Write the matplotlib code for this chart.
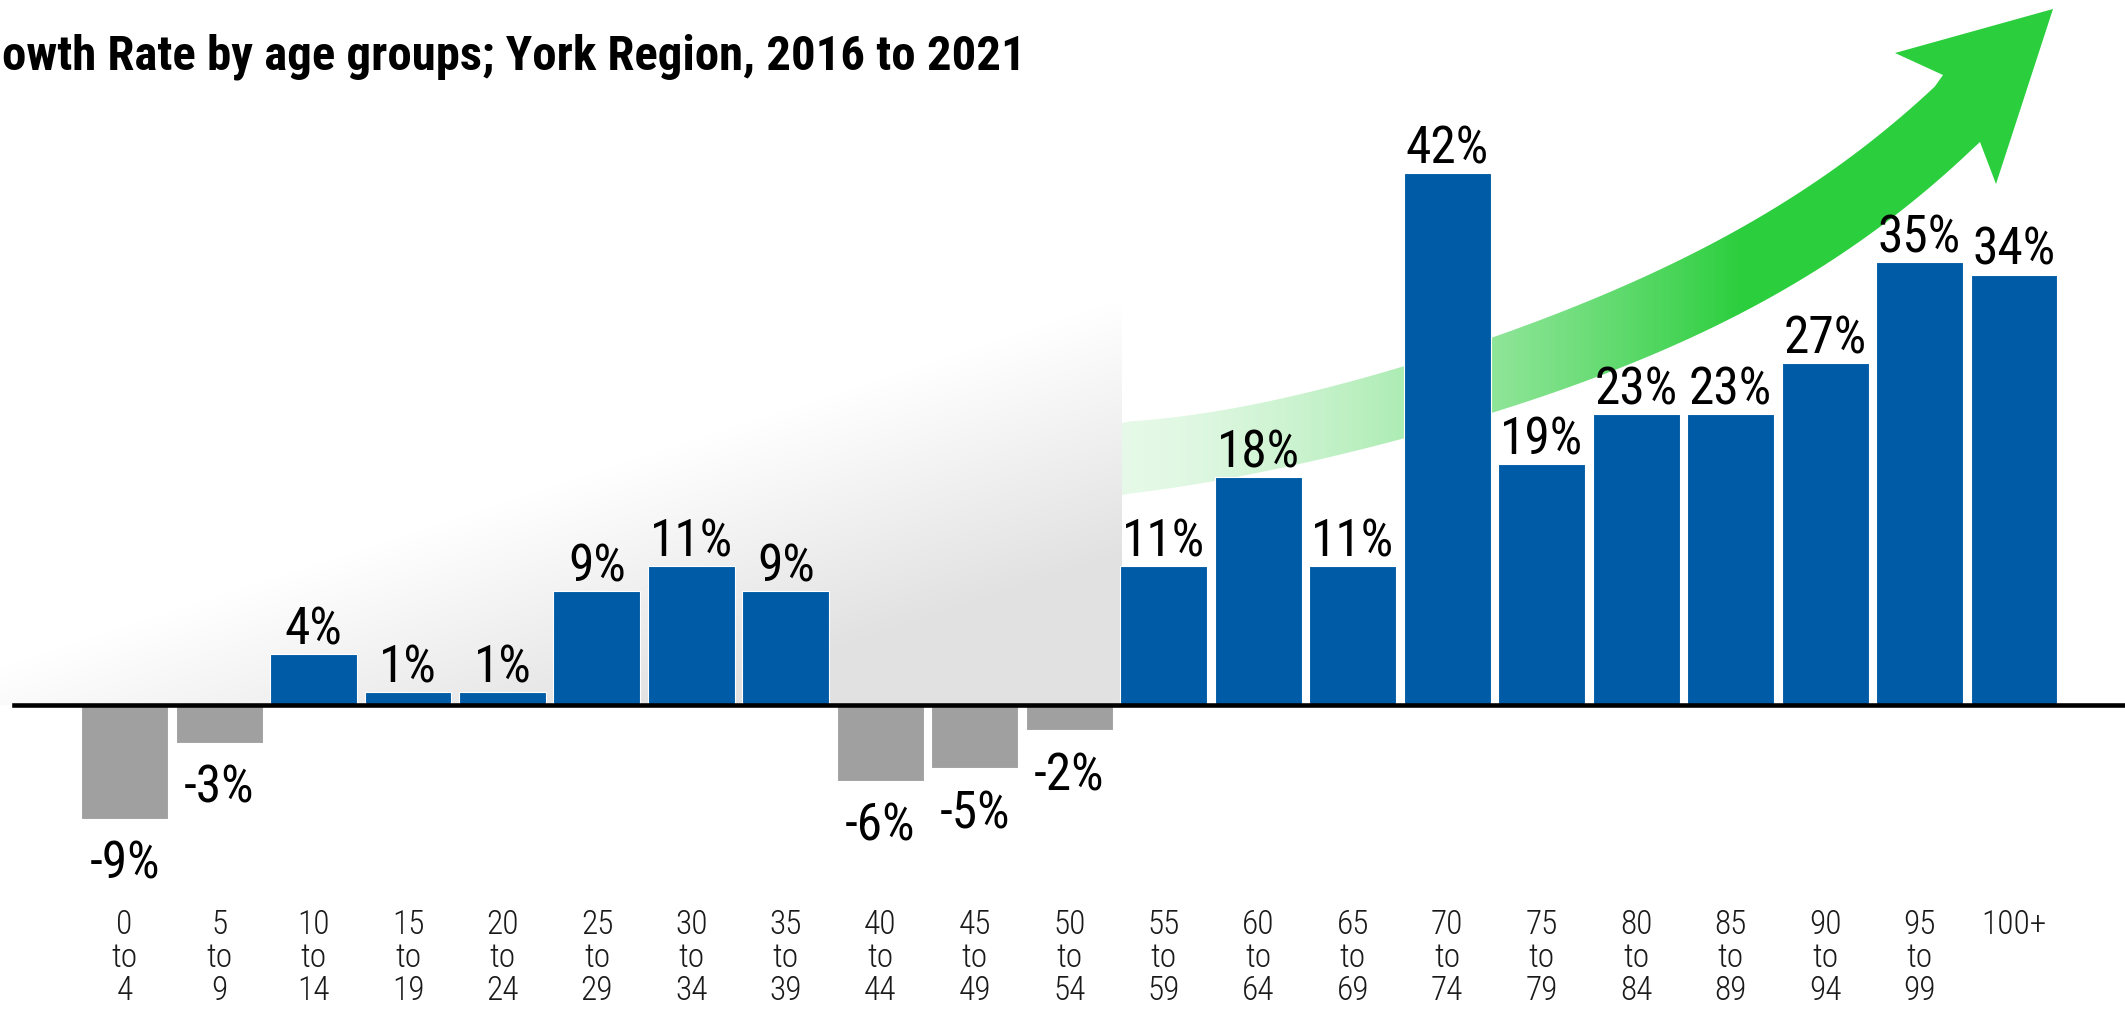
import numpy as np
import matplotlib
matplotlib.use("Agg")
import matplotlib.pyplot as plt
from matplotlib import font_manager
from matplotlib.path import Path
from matplotlib.patches import PathPatch


# data
age_groups = ["0\nto\n4", "5\nto\n9", "10\nto\n14", "15\nto\n19", "20\nto\n24",
              "25\nto\n29", "30\nto\n34", "35\nto\n39", "40\nto\n44", "45\nto\n49",
              "50\nto\n54", "55\nto\n59", "60\nto\n64", "65\nto\n69", "70\nto\n74",
              "75\nto\n79", "80\nto\n84", "85\nto\n89", "90\nto\n94", "95\nto\n99", "100+"]
growth = [-9, -3, 4, 1, 1, 9, 11, 9, -6, -5, -2, 11, 18, 11, 42, 19, 23, 23, 27, 35, 34]
# the title is cut at the left edge in the source image
title_text = "owth Rate by age groups; York Region, 2016 to 2021"

BLUE = "#005BA6"
GREY_BAR = "#A0A0A0"
GREEN = (0.17, 0.81, 0.24)

# pick a narrow font if one is installed
avail = {f.name for f in font_manager.fontManager.ttflist}
narrow = None
for name in ["Liberation Sans Narrow", "Roboto Condensed", "DejaVu Sans Condensed", "Open Sans Condensed"]:
    if name in avail:
        narrow = name
        break
if narrow is None:
    font_kw = dict(family=["DejaVu Sans"], fontstretch="condensed")
else:
    font_kw = dict(family=[narrow, "DejaVu Sans"])
plt.rcParams["font.family"] = font_kw["family"]

W, H = 2125, 1009
ZERO_PX, PX_PER_PCT = 705, 12.66
fig = plt.figure(figsize=(W / 100, H / 100), dpi=100)
ax = fig.add_axes([0, 0, 1, 1])
ax.set_axis_off()


def frac(x, y):
    # reference pixel -> axes fraction
    return x / W, 1 - y / H


# soft grey shadow behind the left part of the chart
gx, gy = np.meshgrid(np.arange(0, 1122), np.arange(250, 706))
shade = np.clip((0.312 * gx + 0.95 * gy - 634) / 246, 0, 1)
img = np.zeros(gx.shape + (4,))
img[..., :3] = 0.886
img[..., 3] = shade
ax.imshow(img, extent=(0, 1122 / W, 1 - 705 / H, 1 - 250 / H), transform=ax.transAxes,
          origin="upper", aspect="auto", interpolation="bilinear", zorder=0)

# green trend arrow (outline traced in reference pixels)
up_pts = np.array([[1122, 423], [1233, 405], [1333, 387], [1403, 367], [1492, 342],
                   [1600, 293], [1700, 247], [1800, 193], [1900, 123], [1943, 75]])
lo_pts = np.array([[1122, 495], [1217, 480], [1300, 462], [1403, 442], [1492, 413],
                   [1600, 373], [1700, 333], [1800, 283], [1900, 210], [1980, 142]])
xu = np.linspace(1122, 1943, 100)
yu = np.polyval(np.polyfit(up_pts[:, 0], up_pts[:, 1], 4), xu)
xl = np.linspace(1122, 1980, 100)
yl = np.polyval(np.polyfit(lo_pts[:, 0], lo_pts[:, 1], 4), xl)
yu[0], yu[-1] = 423, 75
yl[0], yl[-1] = 495, 142
head = [(1895, 53), (2053, 9), (1996, 184)]
outline = list(zip(xu, yu)) + head + list(zip(xl[::-1], yl[::-1]))
verts = [frac(x, y) for x, y in outline]
verts.append(verts[0])
arrow = PathPatch(Path(verts, closed=True), transform=ax.transAxes, fc="none", ec="none")
ax.add_patch(arrow)
gxs = np.linspace(1122, 2060, 500)
alpha = 0.12 + 0.88 * np.clip((gxs - 1122) / (1740 - 1122), 0, 1) ** 1.5
grad = np.zeros((1, gxs.size, 4))
grad[..., :3] = GREEN
grad[0, :, 3] = alpha
gim = ax.imshow(grad, extent=(1122 / W, 2060 / W, 1 - 500 / H, 1), transform=ax.transAxes,
                aspect="auto", interpolation="bilinear", zorder=1)
gim.set_clip_path(arrow)

# bars
x = np.arange(len(growth))
colors = [BLUE if v > 0 else GREY_BAR for v in growth]
ax.bar(x, growth, width=0.92, color=colors, edgecolor="white", linewidth=0.8, zorder=2)
ax.axhline(0, xmin=14 / W, xmax=1, color="black", lw=3.3, zorder=3)

for i, v in enumerate(growth):
    if v > 0:
        ax.annotate(f"{v}%", (i, v), xytext=(0, 7), textcoords="offset points",
                    ha="center", va="baseline", fontsize=37, zorder=4, **font_kw)
    else:
        ax.annotate(f"{v}%", (i, v), xytext=(0, -15), textcoords="offset points",
                    ha="center", va="top", fontsize=37, zorder=4, **font_kw)

# age labels, one text per line so the spacing is fixed
line_base_px = [934, 967, 1000]
for i, lab in enumerate(age_groups):
    for j, part in enumerate(lab.split("\n")):
        ax.text(i, (ZERO_PX - line_base_px[j]) / PX_PER_PCT, part, ha="center", va="baseline",
                fontsize=24, fontweight="light", color="#1a1a1a", **font_kw)

# layout: bars 94.47 px apart, first centred at x=124.6px
ax.set_xlim(-124.6 / 94.47, (W - 124.6) / 94.47)
ax.set_ylim(-(H - ZERO_PX) / PX_PER_PCT, ZERO_PX / PX_PER_PCT)

# title: size it so it spans the same width as the reference (~1026 px)
r = fig.canvas.get_renderer()
ttl = fig.text(2 / W, 1 - 70 / H, title_text, fontsize=32, fontweight="bold", va="baseline", **font_kw)
ttl.set_fontsize(32 * 1024 / ttl.get_window_extent(r).width)

fig.savefig("out.png", dpi=100)
